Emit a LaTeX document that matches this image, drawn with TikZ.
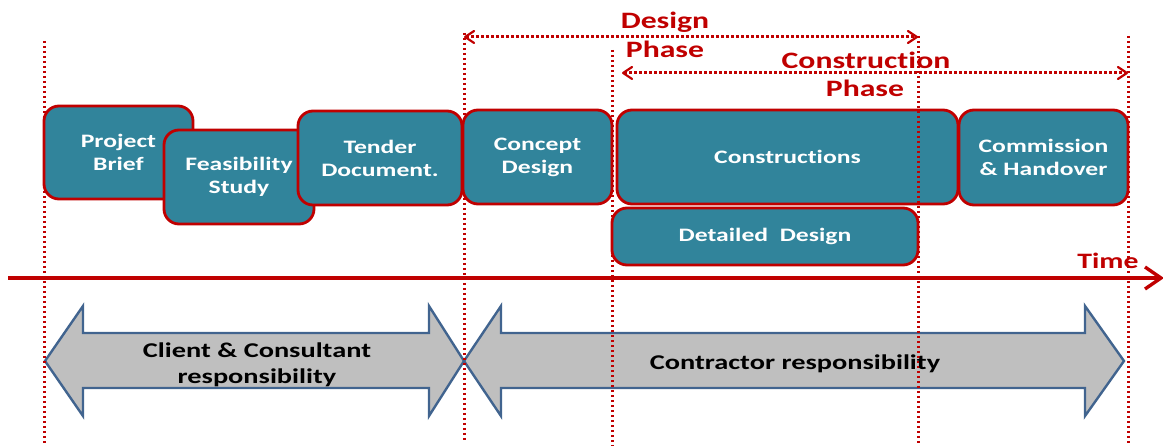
\documentclass[tikz,border=0pt]{standalone}
\usepackage{fontspec}
\setmainfont{Carlito}[FakeStretch=1.35,Ligatures=NoCommon]
\usetikzlibrary{arrows.meta}
\definecolor{rd}{HTML}{C00000}
\definecolor{teal}{HTML}{31849B}
\definecolor{gr}{HTML}{BFBFBF}
\definecolor{bl}{HTML}{41648F}
\tikzset{
  stage/.style={draw=rd,line width=2.8pt,fill=teal,rounded corners=15pt,text=white,
    font=\fontsize{19}{23}\selectfont\bfseries,align=center,inner sep=0pt},
  guide/.style={draw=rd,line width=3pt,dash pattern=on 2.4pt off 2.6pt},
  span/.style={guide,{Straight Barb[length=9pt,width=12pt,line width=2.2pt,round]}-{Straight Barb[length=9pt,width=12pt,line width=2.2pt,round]}},
  phase/.style={text=rd,font=\fontsize{23.5}{28}\selectfont\bfseries,inner sep=0pt},
  band/.style={draw=bl,line width=2.4pt,fill=gr,line join=miter},
  bandtext/.style={text=black,font=\fontsize{21}{26}\selectfont\bfseries,align=center,inner sep=0pt}
}
\newcommand{\stagebox}[6]{%
  \node[stage,minimum width=#4 pt-#2 pt,minimum height=#5 pt-#3 pt] (#1) at ({(#2+#4)/2},{(#3+#5)/2}) {#6};}
\begin{document}
\begin{tikzpicture}[x=1pt,y=-1pt]
\useasboundingbox (0,0) rectangle (1163,446);
% grey responsibility arrows
\draw[band] (45,361) -- (83,306) -- (83,333) -- (429,333) -- (429,306) -- (464,361) -- (429,416) -- (429,388) -- (83,388) -- (83,416) -- cycle;
\draw[band] (464,361) -- (501,306) -- (501,333) -- (1085,333) -- (1085,306) -- (1124,361) -- (1085,416) -- (1085,388) -- (501,388) -- (501,416) -- cycle;
% guides
\coordinate (ga1) at (44,41);   \coordinate (ga2) at (44,446);
\coordinate (gb1) at (464,33);  \coordinate (gb2) at (464,440);
\coordinate (gc1) at (612,50);  \coordinate (gc2) at (612,446);
\coordinate (gd1) at (918,36);  \coordinate (gd2) at (918,446);
\coordinate (ge1) at (1128,36); \coordinate (ge2) at (1128,446);
\draw[guide] (ga1) -- (ga2);
\draw[guide] (gb1) -- (gb2);
\draw[guide] (gc1) -- (gc2);
\draw[guide] (ge1) -- (ge2);
% stages
\stagebox{brief}{44}{106}{193}{199}{Project\\Brief}
\stagebox{feas}{164}{130}{314}{224}{Feasibility\\Study}
\stagebox{tender}{298}{111}{462}{205}{Tender\\Document.}
\stagebox{concept}{463}{110}{612}{204}{Concept\\Design}
\stagebox{constr}{617}{110}{958}{204}{Constructions}
\stagebox{comm}{959}{110}{1128}{205}{Commission\\\& Handover}
\stagebox{detail}{612}{208}{918}{265}{Detailed\ \ Design}
\draw[guide] (gd1) -- (gd2);
% band labels
\node[bandtext] (client) at (257,365) {Client \& Consultant\\responsibility};
\node[bandtext] (contr) at (795,364) {Contractor responsibility};
% timeline
\coordinate (t1) at (8,278); \coordinate (t2) at (1164,278);
\draw[draw=rd,line width=3.4pt,-{Straight Barb[length=16pt,width=22pt,line width=3.4pt]}] (t1) -- (t2);
\node[phase,font=\fontsize{22}{24}\selectfont\bfseries] (time) at (1108,261) {Time};
% phases
\draw[span] (gb1 |- 0,37) coordinate (da) -- (gd1 |- 0,37) coordinate (db);
\draw[span] (622,73) coordinate (ca) -- (ge1 |- 0,73) coordinate (cb);
\node[phase] (d1) at (665,22) {Design};
\node[phase] (d2) at (665,49) {Phase};
\node[phase] (c1) at (866,60) {Construction};
\node[phase] (c2) at (865,88) {Phase};
\end{tikzpicture}
\end{document}
